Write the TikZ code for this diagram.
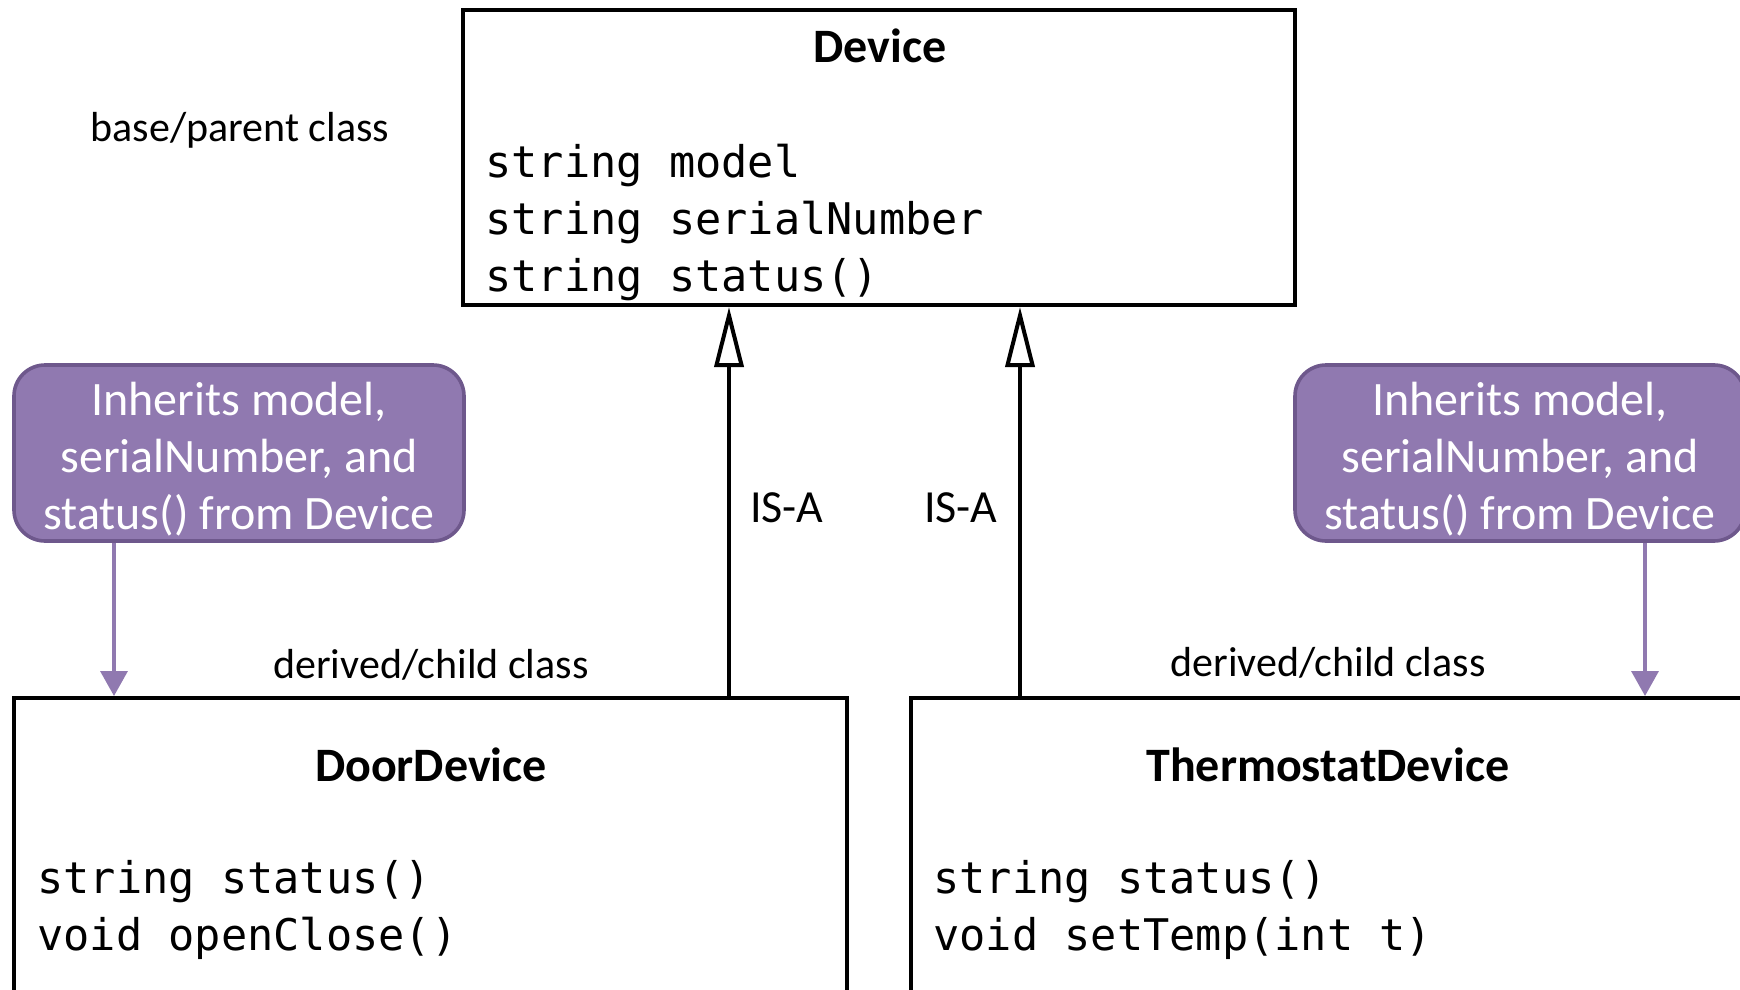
\documentclass[tikz,border=0pt]{standalone}
\usepackage{fontspec}
\setmainfont{Carlito}
\newfontfamily\codefont{DejaVu Sans Mono}
\usetikzlibrary{arrows.meta, positioning, fit}

\definecolor{notefill}{HTML}{9079B0}
\definecolor{noteedge}{HTML}{6E588C}

\begin{document}
\begin{tikzpicture}[
    x=0.5pt, y=-0.5pt,
    classbox/.style={rectangle, draw, line width=2pt, inner sep=0pt},
    classname/.style={font=\fontsize{24}{28}\selectfont\bfseries, anchor=base, inner sep=0pt},
    members/.style={font=\fontsize{21.8}{28.3}\selectfont\codefont, align=left, anchor=base west, inner sep=0pt},
    plaintext/.style={font=\fontsize{21}{25}\selectfont, anchor=base, inner sep=0pt},
    isatext/.style={font=\fontsize{23}{27}\selectfont, anchor=base, inner sep=0pt},
    notebox/.style={rectangle, draw=noteedge, fill=notefill, line width=1.8pt, rounded corners=15.5pt, inner sep=0pt, minimum width=225pt, minimum height=88pt, text=white, align=center, font=\fontsize{24}{28.5}\selectfont},
    isa/.style={-{Triangle[open, width=14.5pt, length=30pt]}, line width=2pt},
    noteline/.style={-{Triangle[width=13.5pt, length=12.5pt]}, draw=notefill, line width=1.75pt}
]
\useasboundingbox (0,0) rectangle (1740,990);
\clip (0,0) rectangle (1740,990);

% Classes (members node sits on the baseline of its last line)
\node[classbox, fit={(463,10) (1295,305)}] (device) {};
\node[classname] (devicename) at (880,63) {Device};
\node[members] (devicemembers) at (485,291) {string model\\string serialNumber\\string status()};

\node[classbox, fit={(14,698) (847,1100)}] (door) {};
\node[classname] (doorname) at (431,781) {DoorDevice};
\node[members] (doormembers) at (37,950) {string status()\\void openClose()};

\node[classbox, fit={(911,698) (1800,1100)}] (thermo) {};
\node[classname] (thermoname) at (1328,781) {ThermostatDevice};
\node[members] (thermomembers) at (933,950) {string status()\\void setTemp(int t)};

% Labels
\node[plaintext] (baselabel) at (240,141) {base/parent class};
\node[plaintext] (doorlabel) at (431,678) {derived/child class};
\node[plaintext] (thermolabel) at (1328,676) {derived/child class};

% Notes
\node[notebox] (leftnote) at (239,453) {\rule{0pt}{22.5pt}Inherits model,\\serialNumber, and\\status() from Device};
\node[notebox] (rightnote) at (1520,453) {\rule{0pt}{22.5pt}Inherits model,\\serialNumber, and\\status() from Device};

% Connections
\coordinate (isaleft) at (729,0);
\coordinate (isaright) at (1020,0);
\draw[isa] (door.north -| isaleft) -- (device.south -| isaleft);
\draw[isa] (thermo.north -| isaright) -- (device.south -| isaright);
\node[isatext] (isaleftlabel) at (787,522) {IS-A};
\node[isatext] (isarightlabel) at (961,522) {IS-A};

\coordinate (leftdrop) at (114,0);
\coordinate (rightdrop) at (1645,0);
\draw[noteline] (leftnote.south -| leftdrop) -- (door.north -| leftdrop);
\draw[noteline] (rightnote.south -| rightdrop) -- (thermo.north -| rightdrop);

\end{tikzpicture}
\end{document}
